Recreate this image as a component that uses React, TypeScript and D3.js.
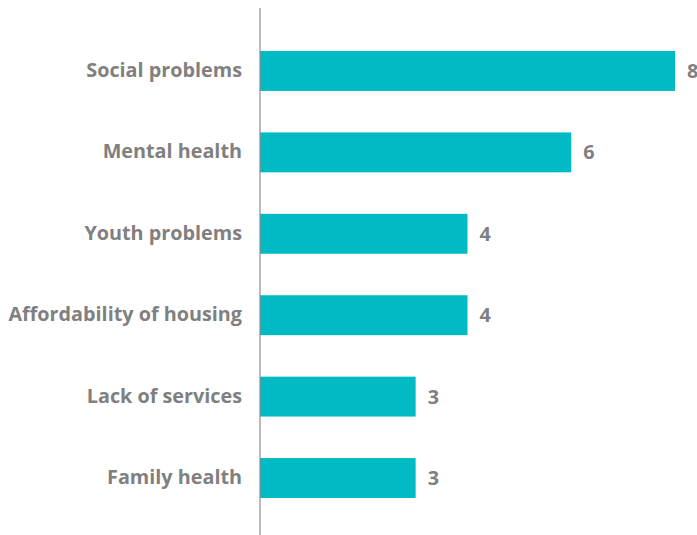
import React, { useEffect, useRef } from 'react';
import * as d3 from 'd3';

const categories = [
  'Social problems',
  'Mental health',
  'Youth problems',
  'Affordability of housing',
  'Lack of services',
  'Family health',
];
const values = [8, 6, 4, 4, 3, 3];

const W = 697;
const H = 535;

export default function App() {
  const svgRef = useRef<SVGSVGElement>(null);

  useEffect(() => {
    if (!svgRef.current) return;
    const svg = d3.select(svgRef.current);
    svg.selectAll('*').remove();

    const axisX = 260;
    const x = d3.scaleLinear().domain([0, 8]).range([axisX, 675]);
    const y = d3.scaleBand<string>()
      .domain(categories)
      .range([9.5, 539.5])
      .padding(0.51);

    const font = "'Open Sans', sans-serif";
    const gray = '#808080';

    const rows = categories.map((c, i) => ({ c, v: values[i] }));

    // bars
    svg.append('g')
      .selectAll('rect')
      .data(rows)
      .enter()
      .append('rect')
      .attr('x', x(0))
      .attr('y', d => y(d.c)!)
      .attr('width', d => x(d.v) - x(0))
      .attr('height', y.bandwidth())
      .attr('fill', '#00bac4');

    // category labels
    svg.append('g')
      .selectAll('text')
      .data(rows)
      .enter()
      .append('text')
      .attr('x', 242)
      .attr('y', d => y(d.c)! + y.bandwidth() / 2)
      .attr('dy', '0.3em')
      .attr('text-anchor', 'end')
      .attr('font-family', font)
      .attr('font-weight', 'bold')
      .attr('font-size', 19.8)
      .attr('fill', gray)
      .text(d => d.c);

    // value labels
    svg.append('g')
      .selectAll('text')
      .data(rows)
      .enter()
      .append('text')
      .attr('x', d => x(d.v) + 12)
      .attr('y', d => y(d.c)! + y.bandwidth() / 2)
      .attr('dy', '0.35em')
      .attr('font-family', font)
      .attr('font-weight', 'bold')
      .attr('font-size', 19.8)
      .attr('fill', gray)
      .text(d => d.v);

    // vertical axis line
    svg.append('line')
      .attr('x1', axisX)
      .attr('x2', axisX)
      .attr('y1', 8)
      .attr('y2', H)
      .attr('stroke', '#8c8c8c')
      .attr('stroke-width', 1.2);
  }, []);

  return (
    <svg
      ref={svgRef}
      width={W}
      height={H}
      style={{ position: 'absolute', left: 0, top: 0, background: '#fff' }}
    />
  );
}
